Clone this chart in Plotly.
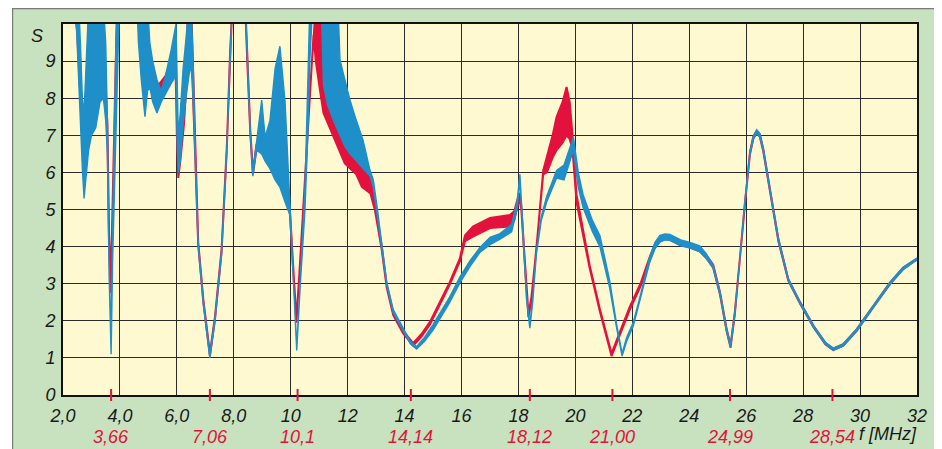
import plotly.graph_objects as go

# ---------------- data ----------------
blue_f = [2.00, 2.40, 2.48, 2.55, 2.62, 2.68, 2.74, 2.80, 2.90, 3.00, 3.15, 3.30, 3.42, 3.50, 3.56,
          3.62, 3.69, 3.74, 3.80, 3.86, 3.92, 3.98, 4.60, 4.65, 4.75, 4.88, 4.97, 5.05, 5.15, 5.30,
          5.45, 5.60, 5.80, 5.97, 6.01, 6.05, 6.12, 6.22, 6.32, 6.42, 6.50, 6.57, 6.66, 6.75, 6.93,
          7.16, 7.34, 7.57, 7.75, 7.87, 7.95, 8.40, 8.47, 8.58, 8.67, 8.80, 8.98, 9.10, 9.27, 9.45,
          9.62, 9.80, 9.97, 10.10, 10.21, 10.33, 10.50, 10.60, 10.67, 10.75, 10.90, 11.08, 11.15, 11.30,
          11.50, 11.66, 11.73, 11.90, 12.08, 12.30, 12.54, 12.78, 12.90, 13.02, 13.19, 13.37, 13.60,
          13.95, 14.20, 14.42, 14.70, 15.00, 15.24, 15.59, 15.94, 16.30, 16.65, 17.00, 17.35, 17.76,
          17.95, 18.05, 18.15, 18.28, 18.40, 18.50, 18.63, 18.80, 18.99, 19.34, 19.60, 19.93, 20.10,
          20.27, 20.60, 20.86, 21.20, 21.45, 21.64, 21.80, 22.03, 22.30, 22.60, 22.80, 22.97, 23.15,
          23.32, 23.70, 24.00, 24.37, 24.60, 24.84, 25.08, 25.31, 25.45, 25.60, 25.78, 25.95, 26.13,
          26.25, 26.37, 26.48, 26.60, 26.83, 27.13, 27.48, 27.90, 28.37, 28.78, 29.06, 29.41, 29.88,
          30.46, 31.05, 31.51, 31.93, 32.00]
blue_lo = [11.0, 10.3, 9.8, 8.6, 7.3, 6.1, 5.3, 5.8, 6.6, 7.0, 7.2, 7.9, 8.0, 7.4, 6.5,
           3.2, 1.1, 3.5, 5.3, 6.5, 8.5, 10.5, 10.5, 9.5, 8.5, 7.5, 8.2, 8.3, 7.9, 7.6,
           7.9, 8.1, 8.4, 8.6, 6.8, 6.0, 6.3, 7.3, 8.0, 8.6, 8.9, 8.0, 6.0, 4.0, 2.45,
           1.0, 2.0, 3.8, 6.5, 9.2, 10.5, 10.5, 9.0, 7.0, 5.9, 6.6, 6.5, 6.3, 6.1, 5.8,
           5.6, 5.2, 4.85, 3.0, 1.2, 2.9, 5.0, 7.0, 9.0, 10.2, 10.3, 10.3, 8.35, 7.8,
           7.4, 7.1, 7.0, 6.7, 6.5, 6.3, 6.1, 5.9, 5.6, 5.05, 4.02, 2.96, 2.22,
           1.72, 1.38, 1.24, 1.45, 1.75, 2.05, 2.5, 3.02, 3.47, 3.85, 4.05, 4.2, 4.4,
           5.0, 5.8, 4.5, 2.6, 1.8, 2.5, 3.8, 4.7, 5.2, 5.85, 5.8, 6.6, 5.6,
           5.05, 4.4, 4.0, 2.9, 1.8, 1.05, 1.45, 1.85, 2.62, 3.55, 3.95, 4.12, 4.18,
           4.17, 4.02, 3.97, 3.86, 3.68, 3.42, 2.7, 1.72, 1.27, 2.16, 3.6, 5.13, 6.47,
           6.9, 7.05, 6.95, 6.56, 5.5, 4.14, 3.07, 2.44, 1.81, 1.36, 1.2, 1.32, 1.72,
           2.35, 2.98, 3.38, 3.61, 3.63]
blue_hi = [12.0, 12.0, 11.0, 10.6, 9.3, 8.0, 7.6, 9.0, 10.5, 10.5, 10.5, 10.5, 10.5, 9.5, 7.4,
           3.6, 1.5, 4.5, 7.0, 9.5, 10.5, 11.0, 11.0, 10.5, 10.5, 10.5, 10.5, 9.5, 9.0, 8.5,
           8.2, 8.6, 9.3, 10.0, 8.6, 7.0, 7.6, 8.8, 9.6, 10.5, 10.5, 9.0, 6.2, 4.1, 2.55,
           1.1, 2.1, 3.9, 6.6, 9.3, 10.6, 10.6, 9.1, 7.1, 6.0, 6.8, 7.95, 6.95, 7.4, 8.8,
           9.4, 7.9, 5.0, 3.1, 1.3, 3.0, 5.6, 8.4, 10.5, 10.5, 10.5, 10.5, 10.5, 10.5,
           10.5, 10.5, 9.03, 8.5, 7.95, 7.41, 6.87, 6.07, 5.8, 5.15, 4.1, 3.05, 2.3,
           1.8, 1.45, 1.3, 1.55, 1.9, 2.2, 2.65, 3.18, 3.62, 3.98, 4.25, 4.35, 4.6,
           5.2, 5.95, 4.6, 2.7, 1.9, 2.6, 3.9, 4.8, 5.35, 6.05, 6.2, 6.95, 6.0,
           5.4, 4.7, 4.3, 3.1, 1.9, 1.12, 1.55, 1.95, 2.74, 3.7, 4.12, 4.3, 4.34,
           4.33, 4.18, 4.12, 4.02, 3.8, 3.5, 2.78, 1.8, 1.35, 2.24, 3.68, 5.21, 6.55,
           6.98, 7.15, 7.05, 6.64, 5.58, 4.22, 3.13, 2.5, 1.87, 1.42, 1.26, 1.38, 1.78,
           2.41, 3.04, 3.44, 3.67, 3.69]

red_f = [2.00, 2.45, 2.53, 2.62, 2.69, 2.80, 3.00, 3.30, 3.50, 3.56, 3.62, 3.68, 3.74, 3.82, 3.90,
         4.60, 4.80, 4.95, 5.30, 5.60, 5.95, 6.00, 6.05, 6.12, 6.25, 6.33, 6.40, 6.50, 6.57, 6.66,
         6.75, 6.93, 7.16, 7.34, 7.57, 7.75, 7.87, 7.95, 8.40, 8.47, 8.58, 8.67, 8.80, 8.98, 9.10,
         9.30, 9.60, 9.80, 9.97, 10.10, 10.20, 10.33, 10.50, 10.65, 10.80, 10.88, 10.97, 11.05, 11.15,
         11.30, 11.50, 11.90, 12.30, 12.50, 12.80, 12.96, 13.19, 13.37, 13.60, 13.95, 14.30, 14.60,
         14.89, 15.24, 15.59, 15.94, 16.12, 16.40, 17.00, 17.70, 17.85, 18.03, 18.10, 18.20, 18.35,
         18.45, 18.63, 18.87, 19.00, 19.20, 19.34, 19.55, 19.69, 19.80, 19.90, 20.04, 20.50, 20.86,
         21.27, 21.56, 21.90, 22.30, 22.60, 22.80, 22.97, 23.15, 23.32, 23.70, 24.00, 24.37, 24.60,
         24.84, 25.08, 25.31, 25.45, 25.60, 25.78, 25.95, 26.13, 26.25, 26.37, 26.48, 26.60, 26.83,
         27.13, 27.48, 27.90, 28.37, 28.78, 29.06, 29.41, 29.88, 30.46, 31.05, 31.51, 31.93, 32.00]
red_lo = [11.0, 10.5, 9.2, 8.0, 6.85, 7.0, 7.5, 8.5, 8.0, 7.0, 4.0, 2.75, 4.5, 7.5, 10.5,
          10.5, 9.0, 8.5, 8.0, 8.3, 9.0, 7.0, 5.85, 6.3, 7.3, 8.5, 9.3, 10.5, 8.0, 6.1,
          4.05, 2.5, 1.05, 2.05, 3.85, 6.55, 9.25, 10.5, 10.5, 9.05, 7.05, 5.95, 6.65, 6.7, 6.55,
          6.4, 6.0, 5.5, 4.9, 3.2, 1.95, 3.5, 5.6, 7.8, 9.7, 9.0, 8.5, 8.1, 7.6,
          7.3, 6.96, 6.24, 5.95, 5.61, 5.43, 4.97, 3.95, 2.9, 2.15, 1.66, 1.33, 1.58,
          1.9, 2.44, 2.98, 3.6, 4.15, 4.27, 4.5, 4.54, 4.7, 5.3, 5.0, 3.8, 2.1,
          2.5, 3.85, 5.95, 6.0, 6.4, 6.6, 6.8, 7.0, 6.9, 6.6, 5.2, 3.42, 2.25,
          1.05, 1.6, 2.28, 2.95, 3.62, 4.0, 4.15, 4.2, 4.18, 4.04, 3.98, 3.87, 3.69,
          3.43, 2.71, 1.73, 1.28, 2.17, 3.61, 5.14, 6.48, 6.91, 7.06, 6.96, 6.57, 5.51,
          4.15, 3.08, 2.45, 1.82, 1.37, 1.21, 1.33, 1.73, 2.36, 2.99, 3.39, 3.62, 3.64]
red_hi = [12.0, 11.0, 9.4, 8.3, 7.15, 7.3, 7.8, 8.8, 8.3, 7.3, 4.3, 3.05, 4.8, 7.8, 10.6,
          11.0, 9.3, 8.8, 8.3, 8.6, 9.3, 7.3, 6.05, 6.6, 7.9, 9.2, 10.5, 10.6, 8.6, 6.2,
          4.12, 2.57, 1.12, 2.12, 3.92, 6.62, 9.32, 10.6, 10.6, 9.12, 7.12, 6.02, 6.75, 6.8, 6.65,
          6.5, 6.1, 5.6, 5.0, 3.3, 2.05, 3.6, 5.7, 7.9, 9.9, 10.5, 10.5, 10.5, 8.3,
          7.8, 7.41, 6.69, 6.3, 6.15, 5.88, 5.1, 4.05, 2.98, 2.22, 1.73, 1.4, 1.65,
          1.97, 2.51, 3.05, 3.68, 4.3, 4.54, 4.77, 4.85, 4.95, 5.45, 5.1, 3.9, 2.2,
          2.6, 3.95, 6.05, 6.4, 7.0, 7.5, 7.9, 8.3, 7.9, 7.0, 5.4, 3.5, 2.32,
          1.12, 1.7, 2.36, 3.03, 3.7, 4.08, 4.25, 4.28, 4.26, 4.12, 4.06, 3.95, 3.77,
          3.51, 2.77, 1.79, 1.34, 2.23, 3.67, 5.2, 6.54, 6.97, 7.12, 7.02, 6.63, 5.57,
          4.21, 3.12, 2.49, 1.86, 1.41, 1.25, 1.37, 1.77, 2.4, 3.03, 3.43, 3.66, 3.68]

x_ticks = [2, 4, 6, 8, 10, 12, 14, 16, 18, 20, 22, 24, 26, 28, 30, 32]
x_tick_text = ["2,0", "4,0", "6,0", "8,0", "10", "12", "14", "16", "18", "20",
               "22", "24", "26", "28", "30", "32"]
y_ticks = [0, 1, 2, 3, 4, 5, 6, 7, 8, 9]
y_tick_text = ["0", "1", "2", "3", "4", "5", "6", "7", "8", "9"]

mark_pos = [3.69, 7.16, 10.24, 14.22, 18.40, 21.30, 25.43, 29.03]
mark_text = ["3,66", "7,06", "10,1", "14,14", "18,12", "21,00", "24,99", "28,54"]

# ---------------- styling ----------------
BLUE = "#1E8FC9"
RED = "#E3123C"
GREEN = "#C8E2C0"
YELLOW = "#FFF9D2"
INK = "#1a1a1a"
FONT = "Liberation Sans Narrow, Liberation Sans, Arial, sans-serif"
FS = 18

OFF = 8                      # page margin of the html body
FIG_W, FIG_H = 942 - OFF, 449 - OFF
L, R, T, B = 63, 917, 24, 395   # plot area in page pixels
W, H = R - L, B - T


def px(xp):
    return (xp - L) / W


def py(yp):
    return (B - yp) / H


def band(f, lo, hi):
    return list(f) + list(f)[::-1], list(hi) + list(lo)[::-1]


def ital(s):
    return "<i>" + s + "</i>"


fig = go.Figure()
rx, ry = band(red_f, red_lo, red_hi)
fig.add_trace(go.Scatter(x=rx, y=ry, mode="lines", fill="toself", fillcolor=RED,
                         line=dict(color=RED, width=2.0), hoverinfo="skip", showlegend=False))
bx, by = band(blue_f, blue_lo, blue_hi)
fig.add_trace(go.Scatter(x=bx, y=by, mode="lines", fill="toself", fillcolor=BLUE,
                         line=dict(color=BLUE, width=1.4), hoverinfo="skip", showlegend=False))

shapes = [
    dict(type="rect", xref="paper", yref="paper", x0=px(0), x1=px(12), y0=py(460), y1=py(0),
         fillcolor="white", line=dict(width=0), layer="above"),
    dict(type="line", xref="paper", yref="paper", x0=px(12), x1=px(942), y0=py(8.6), y1=py(8.6),
         line=dict(color="#7a7a7a", width=1.2), layer="above"),
    dict(type="line", xref="paper", yref="paper", x0=px(12.6), x1=px(12.6), y0=py(449), y1=py(8),
         line=dict(color="#7a7a7a", width=1.2), layer="above"),
    dict(type="line", xref="paper", yref="paper", x0=px(941.4), x1=px(941.4), y0=py(449), y1=py(8),
         line=dict(color="#9a9a9a", width=1), layer="above"),
]
for m in mark_pos:
    shapes.append(dict(type="line", xref="x", yref="paper", x0=m, x1=m, y0=py(389), y1=py(401),
                       line=dict(color=RED, width=2), layer="above"))

annotations = []
for m, t in zip(mark_pos, mark_text):
    annotations.append(dict(x=m, xref="x", y=py(437), yref="paper", text=ital(t), showarrow=False,
                            xanchor="center", yanchor="middle",
                            font=dict(family=FONT, size=FS, color=RED)))
annotations.append(dict(x=px(919), xref="paper", y=py(434), yref="paper", text=ital("f [MHz]"),
                        showarrow=False, xanchor="right", yanchor="middle",
                        font=dict(family=FONT, size=FS, color=INK)))
annotations.append(dict(x=px(37), xref="paper", y=py(36), yref="paper", text=ital("S"),
                        showarrow=False, xanchor="center", yanchor="middle",
                        font=dict(family=FONT, size=FS, color=INK)))

fig.update_layout(
    width=FIG_W, height=FIG_H, autosize=False,
    margin=dict(l=L - OFF, r=FIG_W - (R - OFF), t=T - OFF, b=FIG_H - (B - OFF), pad=0),
    paper_bgcolor=GREEN, plot_bgcolor=YELLOW,
    shapes=shapes, annotations=annotations, showlegend=False,
)
fig.update_xaxes(range=[2, 32], tickvals=x_ticks, ticktext=[ital(t) for t in x_tick_text],
                 showgrid=True, gridcolor="#2b2b2b", gridwidth=1.3,
                 showline=True, linecolor="#111", linewidth=2, mirror=True,
                 ticks="outside", ticklen=3, tickcolor="rgba(0,0,0,0)", zeroline=False,
                 tickfont=dict(family=FONT, size=FS, color=INK))
fig.update_yaxes(range=[0, 10], tickvals=y_ticks, ticktext=[ital(t) for t in y_tick_text],
                 showgrid=True, gridcolor="#2b2b2b", gridwidth=1.3,
                 showline=True, linecolor="#111", linewidth=2, mirror=True,
                 ticks="outside", ticklen=2, tickcolor="rgba(0,0,0,0)", zeroline=False,
                 tickfont=dict(family=FONT, size=FS, color=INK))

fig.write_html("out.html")
